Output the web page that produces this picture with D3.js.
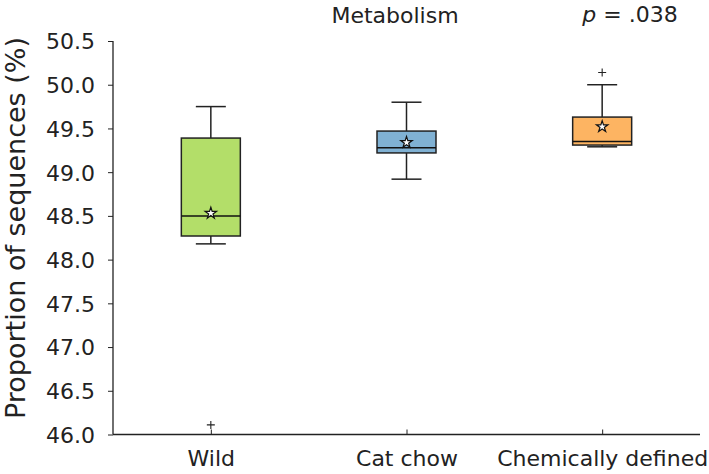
<!DOCTYPE html>
<html><head><meta charset="utf-8">
<script src="https://cdn.jsdelivr.net/npm/d3@7"></script>
<style>body{margin:0;background:#fff}svg{display:block;font-family:"DejaVu Sans",Verdana,sans-serif}</style>
</head><body><svg id="c" width="709" height="474"></svg>
<script>
const categories = ["Wild", "Cat chow", "Chemically defined"];
const whiskerLow  = [48.18, 48.92, 49.29];
const q1          = [48.27, 49.22, 49.31];
const median      = [48.50, 49.28, 49.35];
const q3          = [49.39, 49.47, 49.63];
const whiskerHigh = [49.75, 49.80, 50.00];
const means       = [48.53, 49.34, 49.52];
const outliers    = [[46.11], [], [50.14]];
const colors      = ["#b3de69", "#80b1d3", "#fdb462"];
const yTicks      = [46.0, 46.5, 47.0, 47.5, 48.0, 48.5, 49.0, 49.5, 50.0, 50.5];
const title = "Metabolism";
const pText = ".038";
const yLabel = "Proportion of sequences (%)";

const FONT = '"DejaVu Sans", Verdana, sans-serif';
const svg = d3.select("#c");
const x = d3.scalePoint().domain(categories).range([113, 700]).padding(0.5);
const y = d3.scaleLinear().domain([46.0, 50.5]).range([434.5, 41]);
const boxW = 59, capW = 30;

// axes
const yAxis = d3.axisLeft(y).tickValues(yTicks).tickFormat(d3.format(".1f")).tickSize(5).tickPadding(13);
const gy = svg.append("g").attr("transform", "translate(113,0)").call(yAxis)
  .attr("font-family", FONT).attr("font-size", 22);
gy.select(".domain").attr("d", `M0,${y(50.5)}V${y(46.0)}`).attr("stroke", "#222").attr("stroke-width", 1.3);
gy.selectAll(".tick line").attr("stroke", "#222");
gy.selectAll(".tick text").attr("fill", "#222").attr("dy", "0.36em");

const xAxis = d3.axisBottom(x).tickSize(-5).tickPadding(16);
const gx = svg.append("g").attr("transform", `translate(0,${y(46.0)})`).call(xAxis)
  .attr("font-family", FONT).attr("font-size", 22);
gx.select(".domain").attr("d", "M113,0H700").attr("stroke", "#222").attr("stroke-width", 1.3);
gx.selectAll(".tick line").attr("stroke", "#222");
gx.selectAll(".tick text").attr("fill", "#222");

// boxes
const g = svg.append("g");
categories.forEach((c, i) => {
  const cx = x(c);
  g.append("line").attr("x1", cx).attr("x2", cx).attr("y1", y(q3[i])).attr("y2", y(whiskerHigh[i])).attr("stroke", "#222").attr("stroke-width", 1.5);
  g.append("line").attr("x1", cx).attr("x2", cx).attr("y1", y(q1[i])).attr("y2", y(whiskerLow[i])).attr("stroke", "#222").attr("stroke-width", 1.5);
  g.append("line").attr("x1", cx - capW/2).attr("x2", cx + capW/2).attr("y1", y(whiskerHigh[i])).attr("y2", y(whiskerHigh[i])).attr("stroke", "#222").attr("stroke-width", 1.5);
  g.append("line").attr("x1", cx - capW/2).attr("x2", cx + capW/2).attr("y1", y(whiskerLow[i])).attr("y2", y(whiskerLow[i])).attr("stroke", "#222").attr("stroke-width", 1.5);
  g.append("rect").attr("x", cx - boxW/2).attr("width", boxW).attr("y", y(q3[i])).attr("height", y(q1[i]) - y(q3[i]))
    .attr("fill", colors[i]).attr("stroke", "#222").attr("stroke-width", 1.5);
  g.append("line").attr("x1", cx - boxW/2).attr("x2", cx + boxW/2).attr("y1", y(median[i])).attr("y2", y(median[i])).attr("stroke", "#111").attr("stroke-width", 1.5);
  g.append("path").attr("d", d3.symbol(d3.symbolStar, 40)()).attr("transform", `translate(${cx},${y(means[i])})`)
    .attr("fill", "#fff").attr("stroke", "#111").attr("stroke-width", 1.2);
  outliers[i].forEach(v => {
    g.append("path").attr("d", `M${cx-4},${y(v)}H${cx+4}M${cx},${y(v)-4}V${y(v)+4}`)
      .attr("stroke", "#222").attr("stroke-width", 1.1).attr("fill", "none");
  });
});

// titles
svg.append("text").attr("x", 395).attr("y", 23).attr("text-anchor", "middle").attr("font-size", 22).attr("fill", "#222").text(title);
const pt = svg.append("text").attr("x", 630).attr("y", 22).attr("text-anchor", "middle").attr("font-size", 22).attr("fill", "#222");
pt.append("tspan").attr("font-style", "italic").text("p");
pt.append("tspan").text(" = " + pText);
svg.append("text").attr("transform", "translate(25,228) rotate(-90)").attr("text-anchor", "middle").attr("font-size", 27).attr("fill", "#222").text(yLabel);
</script></body></html>
